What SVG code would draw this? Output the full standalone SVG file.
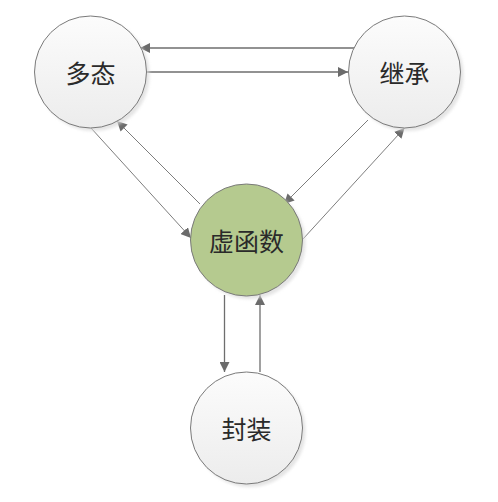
<svg xmlns="http://www.w3.org/2000/svg" width="498" height="502" viewBox="0 0 498 502">
<style>
.node{stroke:#7a7a7a;stroke-width:1}
.shadow{fill:#d9d9d9;opacity:0.7}
.label{font-family:"Noto Sans CJK SC","Noto Sans",sans-serif;font-size:25px;fill:#2a2a2a;text-anchor:middle;dominant-baseline:central}
.edge{stroke:#6e6e6e;fill:none}
.thick{stroke-width:1.3}
.thin{stroke-width:0.9}
</style>
<defs>
<linearGradient id="g" x1="0" y1="0" x2="0" y2="1">
<stop offset="0" stop-color="#fcfcfc"/>
<stop offset="1" stop-color="#ececec"/>
</linearGradient>
<filter id="blur" x="-20%" y="-20%" width="140%" height="140%"><feGaussianBlur stdDeviation="1.5"/></filter>
<marker id="arr" viewBox="0 0 10 10" refX="10" refY="5" markerWidth="10" markerHeight="10" markerUnits="userSpaceOnUse" orient="auto">
<path d="M0,0 L10,5 L0,10 z" fill="#6b6b6b"/>
</marker>
</defs>
<g id="connectors">
<line class="edge thick" x1="357" y1="48" x2="140" y2="48" marker-end="url(#arr)"/>
<line class="edge thick" x1="147" y1="72" x2="348" y2="72" marker-end="url(#arr)"/>
<line class="edge thin" x1="91" y1="128" x2="191" y2="238" marker-end="url(#arr)"/>
<line class="edge thin" x1="200" y1="204" x2="117" y2="121" marker-end="url(#arr)"/>
<line class="edge thin" x1="368" y1="120" x2="284" y2="204" marker-end="url(#arr)"/>
<line class="edge thin" x1="303" y1="239" x2="404.5" y2="128" marker-end="url(#arr)"/>
<line class="edge thick" x1="224.5" y1="295" x2="224.5" y2="372" marker-end="url(#arr)"/>
<line class="edge thick" x1="260" y1="372" x2="260" y2="295" marker-end="url(#arr)"/>
</g>
<g id="node-duotai">
<circle class="shadow" cx="93.5" cy="75" r="56" filter="url(#blur)"/>
<circle class="node" cx="90.5" cy="72" r="56" fill="url(#g)"/>
<text class="label" x="90.5" y="72">多态</text>
</g>
<g id="node-jicheng">
<circle class="shadow" cx="407.5" cy="75" r="56" filter="url(#blur)"/>
<circle class="node" cx="404.5" cy="72" r="56" fill="url(#g)"/>
<text class="label" x="404.5" y="72">继承</text>
</g>
<g id="node-xuhanshu">
<circle class="shadow" cx="249.5" cy="243" r="56" filter="url(#blur)"/>
<circle class="node" cx="246.5" cy="240" r="56" fill="#b5ca8f"/>
<text class="label" x="246.5" y="240">虚函数</text>
</g>
<g id="node-fengzhuang">
<circle class="shadow" cx="249.5" cy="431" r="56" filter="url(#blur)"/>
<circle class="node" cx="246.5" cy="428" r="56" fill="url(#g)"/>
<text class="label" x="246.5" y="428">封装</text>
</g>
</svg>
